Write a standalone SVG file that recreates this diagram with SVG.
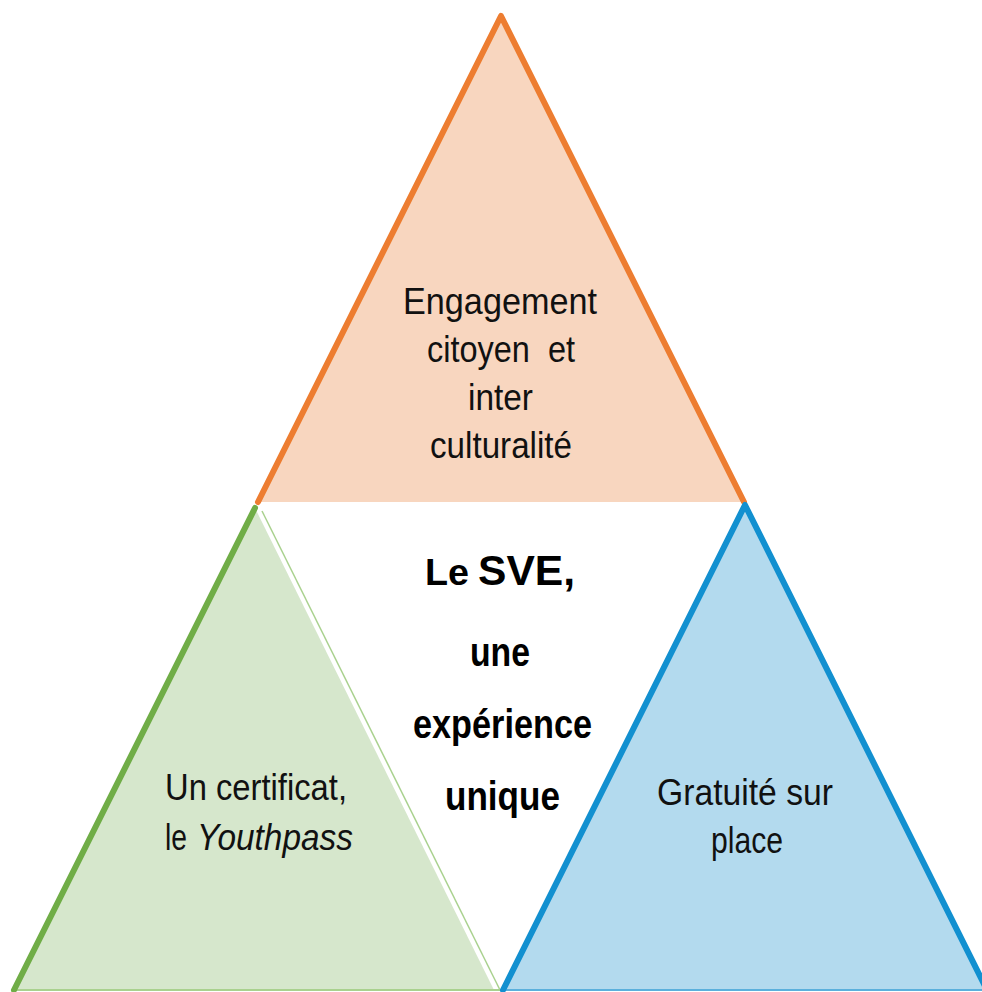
<svg xmlns="http://www.w3.org/2000/svg" width="982" height="992" viewBox="0 0 982 992">
<style>
.t{font-family:"Liberation Sans",Arial,sans-serif;font-size:37px;fill:#111;}
.b{font-family:"Liberation Sans",Arial,sans-serif;font-weight:bold;fill:#000;}
.edge{fill:none;stroke-width:6;stroke-linejoin:round;stroke-linecap:round;}
</style>
<rect width="982" height="992" fill="#fff"/>
<g id="top-triangle">
<polygon points="501,16 258,502 744,502" fill="#F8D6BF"/>
<polyline class="edge" points="258,502 501,16 744,502" stroke="#ED7D31"/>
<text class="t" x="403" y="314" textLength="194" lengthAdjust="spacingAndGlyphs">Engagement</text>
<text class="t" x="427" y="362" textLength="148" lengthAdjust="spacingAndGlyphs">citoyen&#160; et</text>
<text class="t" x="468" y="410" textLength="65" lengthAdjust="spacingAndGlyphs">inter</text>
<text class="t" x="430" y="458" textLength="142" lengthAdjust="spacingAndGlyphs">culturalité</text>
</g>
<g id="left-triangle">
<polygon points="255,508 14,990 494,990" fill="#D6E7CC"/>
<line x1="262" y1="511" x2="500" y2="990" stroke="#A9D18E" stroke-width="1.5"/>
<line x1="14" y1="990" x2="500" y2="990" stroke="#A9D18E" stroke-width="2"/>
<line class="edge" x1="255" y1="508" x2="14" y2="990" stroke="#70AD47"/>
<text class="t" x="165" y="800" textLength="182" lengthAdjust="spacingAndGlyphs">Un certificat,</text>
<text class="t" x="165" y="850" textLength="22" lengthAdjust="spacingAndGlyphs">le</text>
<text class="t" x="197" y="850" font-style="italic" textLength="156" lengthAdjust="spacingAndGlyphs">Youthpass</text>
</g>
<g id="right-triangle">
<polygon points="745,505 503,990 987,990" fill="#B3DAEE"/>
<line x1="503" y1="990" x2="987" y2="990" stroke="#5BB0DC" stroke-width="2"/>
<polyline class="edge" points="503,990 745,505 987,990" stroke="#1290D0"/>
<text class="t" x="657" y="805" textLength="176" lengthAdjust="spacingAndGlyphs">Gratuité sur</text>
<text class="t" x="711" y="853" textLength="72" lengthAdjust="spacingAndGlyphs">place</text>
</g>
<g id="center-label">
<text class="b" x="425" y="585" font-size="36" textLength="44" lengthAdjust="spacingAndGlyphs">Le</text>
<text class="b" x="478" y="585" font-size="42" textLength="97" lengthAdjust="spacingAndGlyphs">SVE,</text>
<text class="b" x="470" y="666" font-size="40" textLength="60" lengthAdjust="spacingAndGlyphs">une</text>
<text class="b" x="413" y="738" font-size="40" textLength="179" lengthAdjust="spacingAndGlyphs">expérience</text>
<text class="b" x="445" y="810" font-size="40" textLength="115" lengthAdjust="spacingAndGlyphs">unique</text>
</g>
</svg>
